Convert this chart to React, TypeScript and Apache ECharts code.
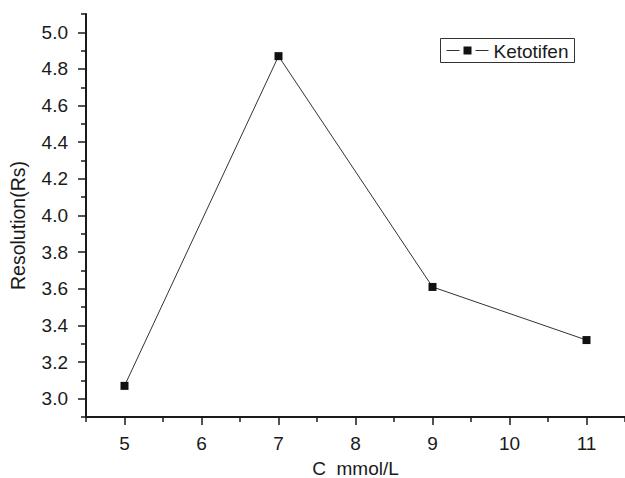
import React, { useEffect, useRef } from "react";
import * as echarts from "echarts";

const concentration = [5, 7, 9, 11];
const resolution = [3.07, 4.87, 3.61, 3.32];
const xMajorTicks = [5, 6, 7, 8, 9, 10, 11];
const xMinorTicks = [4.5, 5.5, 6.5, 7.5, 8.5, 9.5, 10.5, 11.5];
const yMajorTicks = [3.0, 3.2, 3.4, 3.6, 3.8, 4.0, 4.2, 4.4, 4.6, 4.8, 5.0];
const yMinorTicks = [2.9, 3.1, 3.3, 3.5, 3.7, 3.9, 4.1, 4.3, 4.5, 4.7, 4.9, 5.1];
const seriesName = "Ketotifen";
const xName = "C  mmol/L";
const yName = "Resolution(Rs)";

const FONT = "'Liberation Sans', Arial, Helvetica, sans-serif";
const INK = "#1a1a1a";

export default function App() {
  const ref = useRef<HTMLDivElement>(null);
  useEffect(() => {
    if (!ref.current) return;
    const chart = echarts.init(ref.current, null, { renderer: "svg" });
    const axisLine = { show: true, lineStyle: { color: INK, width: 2 } };
    chart.setOption({
      animation: false,
      backgroundColor: "#ffffff",
      grid: {
        left: 86,
        right: 0,
        top: 14,
        bottom: 61,
        containLabel: false,
        outerBoundsMode: "none",
      },
      xAxis: [
        {
          type: "value",
          min: 4.5,
          max: 11.5,
          position: "bottom",
          name: xName,
          nameLocation: "middle",
          nameGap: 42,
          nameTextStyle: { fontFamily: FONT, fontSize: 19, color: INK },
          axisLine,
          axisTick: {
            show: true,
            length: 8,
            customValues: xMajorTicks,
            lineStyle: { color: INK, width: 1.5 },
          },
          axisLabel: {
            show: true,
            customValues: xMajorTicks,
            margin: 17,
            fontFamily: FONT,
            fontSize: 19,
            color: INK,
          },
          splitLine: { show: false },
        },
        {
          type: "value",
          min: 4.5,
          max: 11.5,
          position: "bottom",
          gridIndex: 0,
          axisLine: { show: false },
          axisTick: {
            show: true,
            length: 5,
            customValues: xMinorTicks,
            lineStyle: { color: INK, width: 1.5 },
          },
          axisLabel: { show: false },
          splitLine: { show: false },
        },
      ],
      yAxis: [
        {
          type: "value",
          min: 2.9,
          max: 5.1,
          position: "left",
          name: yName,
          nameLocation: "middle",
          nameGap: 58,
          nameRotate: 90,
          nameTextStyle: {
            fontFamily: FONT,
            fontSize: 19.5,
            color: INK,
            padding: [0, 20, 0, 0],
          },
          axisLine,
          axisTick: {
            show: true,
            length: 8,
            customValues: yMajorTicks,
            lineStyle: { color: INK, width: 1.5 },
          },
          axisLabel: {
            show: true,
            customValues: yMajorTicks,
            margin: 18,
            fontFamily: FONT,
            fontSize: 19,
            color: INK,
            formatter: (v: number) => v.toFixed(1),
          },
          splitLine: { show: false },
        },
        {
          type: "value",
          min: 2.9,
          max: 5.1,
          position: "left",
          gridIndex: 0,
          axisLine: { show: false },
          axisTick: {
            show: true,
            length: 5,
            customValues: yMinorTicks,
            lineStyle: { color: INK, width: 1.5 },
          },
          axisLabel: { show: false },
          splitLine: { show: false },
        },
      ],
      series: [
        {
          name: seriesName,
          type: "line",
          xAxisIndex: 0,
          yAxisIndex: 0,
          data: concentration.map((c, i) => [c, resolution[i]]),
          symbol: "rect",
          symbolSize: 8,
          showAllSymbol: true,
          itemStyle: { color: "#111111" },
          lineStyle: { color: "#333333", width: 1 },
          z: 3,
        },
      ],
      graphic: [
        {
          type: "group",
          left: 440,
          top: 38,
          children: [
            {
              type: "rect",
              shape: { x: 0, y: 0, width: 134, height: 24 },
              style: { fill: "#ffffff", stroke: "#333333", lineWidth: 1 },
            },
            {
              type: "line",
              shape: { x1: 6, y1: 12, x2: 19, y2: 12 },
              style: { stroke: "#333333", lineWidth: 1 },
            },
            {
              type: "rect",
              shape: { x: 23, y: 8, width: 8, height: 8 },
              style: { fill: "#111111" },
            },
            {
              type: "line",
              shape: { x1: 35, y1: 12, x2: 48, y2: 12 },
              style: { stroke: "#333333", lineWidth: 1 },
            },
            {
              type: "text",
              x: 53,
              y: 12.5,
              style: {
                text: seriesName,
                fontFamily: FONT,
                fontSize: 19,
                fill: INK,
                verticalAlign: "middle",
                align: "left",
              },
            },
          ],
        },
      ],
    });
    return () => chart.dispose();
  }, []);
  return (
    <div
      ref={ref}
      style={{ position: "absolute", left: 0, top: 0, width: 625, height: 478 }}
    />
  );
}
